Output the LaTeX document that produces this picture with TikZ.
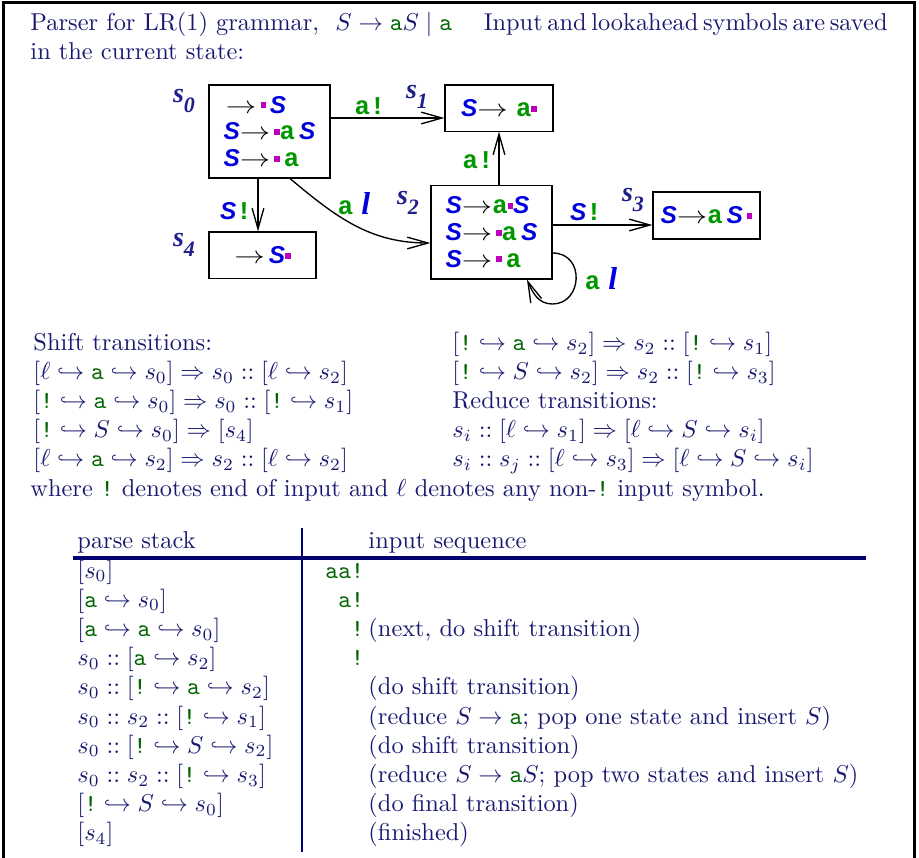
\documentclass[tikz,border=0pt]{standalone}
\usepackage{amsmath,amssymb}
\usepackage{xcolor}
\usepackage{fontspec}
\newfontfamily\diagsans{Liberation Sans}
\newfontfamily\diagmono{Liberation Mono}
\newfontfamily\diagserif{Liberation Serif}
\usepackage{tikz}
\usetikzlibrary{arrows.meta,positioning,calc}

\definecolor{textnavy}{RGB}{25,25,112}
\definecolor{rulenavy}{RGB}{0,0,110}
\definecolor{termgreen}{RGB}{0,100,0}
\definecolor{diagblue}{RGB}{0,0,220}
\definecolor{diaggreen}{RGB}{0,150,0}
\definecolor{dotmag}{RGB}{190,0,190}
\definecolor{labnavy}{RGB}{30,30,140}

% text symbols
\newcommand{\term}{\textcolor{termgreen}{\texttt{a}}}
\newcommand{\eoi}{\textcolor{termgreen}{\texttt{!}}}
\newcommand{\pcons}{\mathrel{::}}
\newcommand{\hk}{\hookrightarrow}
% automaton symbols
\newcommand{\dS}{\textcolor{diagblue}{\diagsans\bfseries\itshape S}}
\newcommand{\da}{\textcolor{diaggreen}{\diagmono\bfseries\fontsize{10.5}{11}\selectfont a}}
\newcommand{\dx}{\textcolor{diaggreen}{\diagmono\bfseries\fontsize{10.5}{11}\selectfont !}}
\newcommand{\dl}{\textcolor{diagblue}{\diagserif\bfseries\itshape\fontsize{13}{13}\selectfont l}}
\newcommand{\itemdot}{\textcolor{dotmag}{\raisebox{2pt}{\rule{2.2pt}{2.4pt}}}}
\newcommand{\prodarr}{{\color{black}\scalebox{1.25}[1]{$\rightarrow$}}}
\newcommand{\slab}[1]{\textcolor{labnavy}{\diagserif\bfseries\itshape\fontsize{11.5}{12}\selectfont s\raisebox{-4pt}{\fontsize{9}{9}\selectfont #1}}}

\tikzset{
  txt/.style={anchor=base west,inner sep=0pt,text=textnavy},
  statebox/.style={draw,line width=0.45pt,align=left,inner sep=0pt,
    font=\fontsize{10}{11}\selectfont},
  elab/.style={inner sep=0pt,font=\fontsize{10}{11}\selectfont},
  edge/.style={line width=0.55pt,-{Straight Barb[length=8.5pt,width=4.8pt]}},
  tabrule/.style={draw=rulenavy}
}

\begin{document}
\begin{tikzpicture}[x=0.41pt,y=-0.41pt]
		\useasboundingbox (0,0) rectangle (919,858);
		\draw[line width=1.25pt] (3.5,858) -- (3.5,2.5) -- (914.5,2.5) -- (914.5,858);

		\node[txt] (intro1) at (30,30.5) {Parser for LR(1) grammar,\ \ $S\rightarrow\term S\mid\term$\hspace{13pt}{\spaceskip=1.9pt Input and lookahead symbols are saved}};
		\node[txt] (intro2) at (30,59) {in the current state:};

		% the automaton
		\node[statebox,minimum width=49.6pt,minimum height=38.1pt] (s0) at (269.5,131.5)
			{\hspace{1pt}\prodarr\,\itemdot\,\dS\\ \dS\prodarr\,\itemdot\da\,\dS\\ \dS\prodarr\,\itemdot\,\da};
		\node[statebox,minimum width=44.3pt,minimum height=18.9pt] (s1) at (499,108) {\dS\prodarr\ \da\itemdot};
		\node[statebox,minimum width=49.6pt,minimum height=38.5pt] (s2) at (491.5,232)
			{\dS\prodarr\da\itemdot\dS\\ \dS\prodarr\,\itemdot\da\,\dS\\ \dS\prodarr\,\itemdot\,\da};
		\node[statebox,minimum width=43.9pt,minimum height=19.3pt] (s3) at (706.5,215.5) {\dS\prodarr\da\,\dS\,\itemdot};
		\node[statebox,minimum width=43.9pt,minimum height=18.9pt] (s4) at (262.5,255) {\prodarr\,\dS\itemdot};

		\node (lab0) at (184,101) {\slab{0}};
		\node (lab1) at (417,97) {\slab{1}};
		\node (lab2) at (408,203) {\slab{2}};
		\node (lab3) at (633,200) {\slab{3}};
		\node (lab4) at (184,245) {\slab{4}};

		\draw[edge] ($(s0.east)+(0,-13.5)$) -- ($(s1.west)+(0,10)$);
		\draw[edge] (s1.south |- s2.north) -- (s1.south);
		\draw[edge] ($(s0.south)+(-11.5,0)$) -- ($(s4.north)+(-4.5,0)$);
		\draw[edge] ($(s0.south)+(20.5,0)$) to[out=-40,in=180] ($(s2.west)+(0,11)$);
		\draw[edge] ($(s2.east)+(0,-7)$) -- ($(s3.west)+(0,9.5)$);
		\coordinate (loopout) at ($(s2.east)+(0,21)$);
		\coordinate (loopin) at ($(s2.south)+(35.5,0)$);
		\draw[edge] (loopout) .. controls +(33,0) and +(30,0) .. ++(0,51)
			.. controls +(-14,0) and +(6,14) .. (loopin);

		\node[elab] (e01) at (370,106) {\da\dx};
		\node[elab] (e21) at (478,160) {\da\dx};
		\node[elab] (e04) at (236,211) {\dS\dx};
		\node[elab] (e02) at (354,204) {\da\ \dl};
		\node[elab] (e23) at (586,212) {\dS\dx};
		\node[elab] (e22) at (601,279) {\da\ \dl};

		% transitions
		\node[txt] (shifthead) at (33,350.5) {Shift transitions:};
		\node[txt] (sh1) at (33,379.6) {$[\ell\hk\term\hk s_0]\Rightarrow s_0\pcons[\ell\hk s_2]$};
		\node[txt] (sh2) at (33,408.7) {$[\eoi\hk\term\hk s_0]\Rightarrow s_0\pcons[\eoi\hk s_1]$};
		\node[txt] (sh3) at (33,437.8) {$[\eoi\hk S\hk s_0]\Rightarrow[s_4]$};
		\node[txt] (sh4) at (33,466.9) {$[\ell\hk\term\hk s_2]\Rightarrow s_2\pcons[\ell\hk s_2]$};
		\node[txt] (sh5) at (452,350.5) {$[\eoi\hk\term\hk s_2]\Rightarrow s_2\pcons[\eoi\hk s_1]$};
		\node[txt] (sh6) at (452,379.6) {$[\eoi\hk S\hk s_2]\Rightarrow s_2\pcons[\eoi\hk s_3]$};
		\node[txt] (redhead) at (452,408.7) {Reduce transitions:};
		\node[txt] (rd1) at (452,437.8) {$s_i\pcons[\ell\hk s_1]\Rightarrow[\ell\hk S\hk s_i]$};
		\node[txt] (rd2) at (452,466.9) {$s_i\pcons s_j\pcons[\ell\hk s_3]\Rightarrow[\ell\hk S\hk s_i]$};
		\node[txt] (where) at (30,496) {where \eoi\ denotes end of input and $\ell$ denotes any non-\eoi\ input symbol.};

		% the parse run
		\node[txt] (colstack) at (77,548) {parse stack};
		\node[txt] (colinput) at (368,548) {input sequence};
		\draw[tabrule,line width=1.4pt] (73,558) -- (866,558);
		\draw[tabrule,line width=1.1pt] (302,528) -- (302,852);

		\node[txt] (st1) at (77,578) {$[s_0]$};
		\node[txt] (st2) at (77,607.2) {$[\term\hk s_0]$};
		\node[txt] (st3) at (77,636.4) {$[\term\hk\term\hk s_0]$};
		\node[txt] (st4) at (77,665.6) {$s_0\pcons[\term\hk s_2]$};
		\node[txt] (st5) at (77,694.8) {$s_0\pcons[\eoi\hk\term\hk s_2]$};
		\node[txt] (st6) at (77,724) {$s_0\pcons s_2\pcons[\eoi\hk s_1]$};
		\node[txt] (st7) at (77,753.2) {$s_0\pcons[\eoi\hk S\hk s_2]$};
		\node[txt] (st8) at (77,782.4) {$s_0\pcons s_2\pcons[\eoi\hk s_3]$};
		\node[txt] (st9) at (77,811.6) {$[\eoi\hk S\hk s_0]$};
		\node[txt] (st10) at (77,840.8) {$[s_4]$};

		\node[txt,text=termgreen] (in1) at (325,578) {\texttt{aa!}};
		\node[txt,text=termgreen] (in2) at (337.8,607.2) {\texttt{a!}};
		\node[txt,text=termgreen] (in3) at (350.6,636.4) {\texttt{!}};
		\node[txt] (note3) at (368,636.4) {(next, do shift transition)};
		\node[txt,text=termgreen] (in4) at (350.6,665.6) {\texttt{!}};
		\node[txt] (note5) at (368,694.8) {(do shift transition)};
		\node[txt] (note6) at (368,724) {(reduce $S\rightarrow\term$; pop one state and insert $S$)};
		\node[txt] (note7) at (368,753.2) {(do shift transition)};
		\node[txt] (note8) at (368,782.4) {(reduce $S\rightarrow\term S$; pop two states and insert $S$)};
		\node[txt] (note9) at (368,811.6) {(do final transition)};
		\node[txt] (note10) at (368,840.8) {(finished)};
	\end{tikzpicture}
\end{document}
